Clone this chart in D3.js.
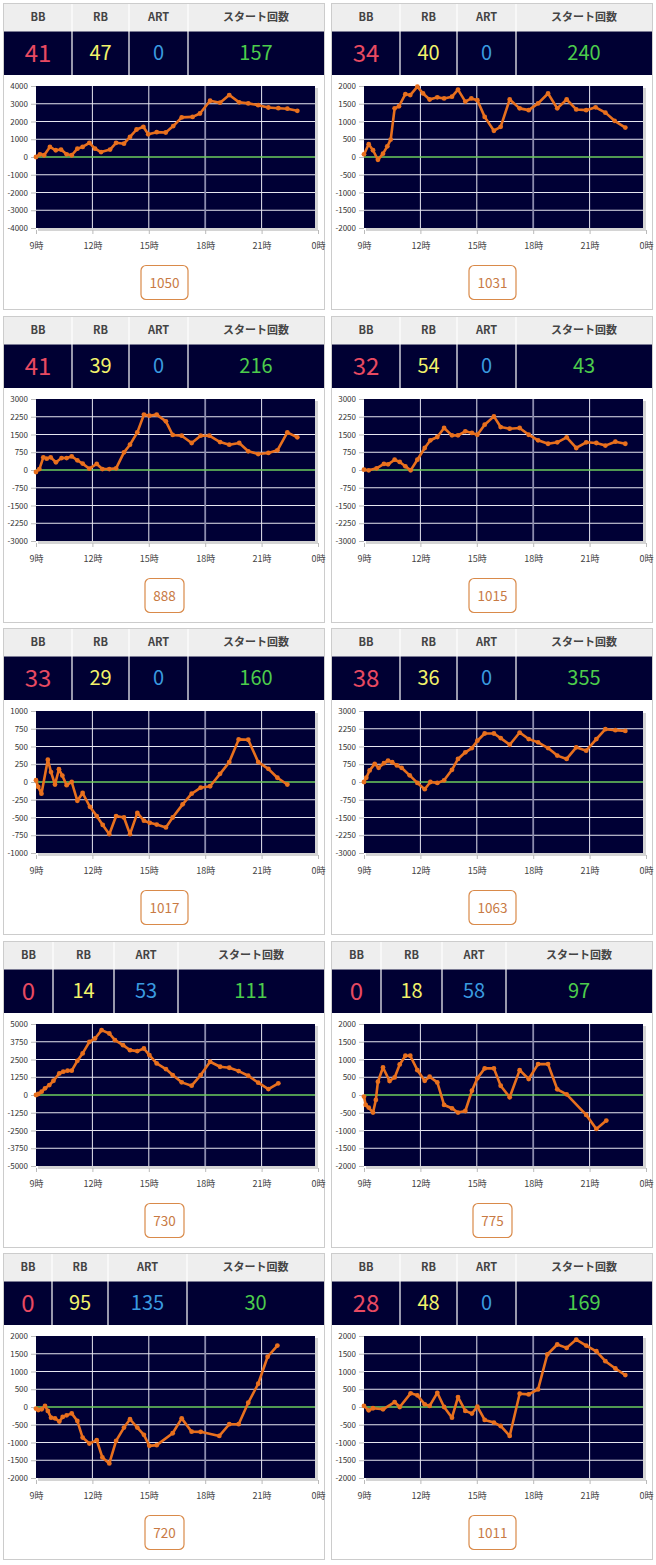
<!DOCTYPE html>
<html><head><meta charset="utf-8">
<script src="https://cdnjs.cloudflare.com/ajax/libs/d3/7.8.5/d3.min.js"></script>
<style>body{margin:0;background:#fff}svg{display:block}</style>
</head><body><svg id="c" width="656" height="1565"></svg>
<script>
// ---------- data ----------
const machineNos  = ["1050","1031","888","1015","1017","1063","730","775","720","1011"];
const bbCounts    = [41,34,41,32,33,38,0,0,0,28];
const rbCounts    = [47,40,39,54,29,36,14,18,95,48];
const artCounts   = [0,0,0,0,0,0,53,58,135,0];
const startCounts = [157,240,216,43,160,355,111,97,30,169];
const yMaxes      = [4000,2000,3000,3000,1000,3000,5000,2000,2000,2000];
const headerLabels = ["BB","RB","ART","スタート回数"];
const xTickHours  = [9,12,15,18,21,24];
const xTickLabels = ["9時","12時","15時","18時","21時","0時"];

const times1 = [9.0,9.21,9.43,9.74,10.05,10.33,10.63,10.9,11.2,11.48,11.84,12.14,12.46,12.94,13.26,13.68,14.0,14.35,14.71,14.97,15.42,15.9,16.3,16.75,17.33,17.72,18.26,18.79,19.28,19.81,20.29,20.82,21.36,21.89,22.37,22.9];
const diffs1 = [0,150,100,570,380,420,150,100,470,570,800,470,280,420,800,750,1130,1550,1700,1280,1400,1380,1740,2230,2260,2450,3170,3060,3490,3080,3020,2920,2790,2750,2720,2600];
const times2 = [9.0,9.25,9.48,9.74,10.01,10.24,10.42,10.63,10.86,11.2,11.46,11.84,12.14,12.49,12.9,13.26,13.68,14.0,14.39,14.71,15.03,15.42,15.91,16.27,16.75,17.28,17.76,18.26,18.79,19.28,19.78,20.29,20.82,21.32,21.84,22.33,22.9];
const diffs2 = [75,360,190,-80,95,300,490,1370,1430,1770,1745,1980,1790,1620,1680,1650,1700,1900,1560,1650,1600,1130,740,850,1620,1370,1320,1510,1790,1370,1620,1340,1320,1400,1250,1020,830];
const times3 = [9.0,9.18,9.39,9.57,9.78,10.06,10.36,10.63,10.9,11.2,11.48,11.84,12.23,12.53,12.9,13.26,13.68,14.0,14.39,14.74,15.03,15.42,15.91,16.27,16.75,17.28,17.76,18.22,18.79,19.28,19.81,20.29,20.82,21.36,21.84,22.37,22.9];
const diffs3 = [-85,40,535,480,535,325,505,505,575,410,270,55,255,40,40,70,745,1070,1590,2340,2295,2340,2055,1480,1450,1140,1450,1450,1180,1070,1140,790,675,720,830,1590,1380];
const times4 = [9.0,9.25,9.67,10.06,10.28,10.63,10.9,11.2,11.48,11.84,12.23,12.53,12.9,13.26,13.68,14.0,14.39,14.74,15.03,15.42,15.91,16.27,16.75,17.28,17.76,18.26,18.79,19.28,19.78,20.29,20.82,21.36,21.84,22.37,22.9];
const diffs4 = [15,-15,70,255,240,435,340,155,-15,435,930,1255,1395,1775,1465,1465,1635,1565,1490,1915,2265,1815,1745,1775,1490,1255,1110,1170,1380,930,1170,1140,1030,1195,1110];
const times5 = [9.0,9.12,9.29,9.63,9.8,10.01,10.22,10.4,10.63,10.9,11.2,11.48,11.87,12.23,12.55,12.9,13.26,13.68,14.0,14.39,14.74,15.05,15.42,15.91,16.27,16.8,17.28,17.76,18.26,18.79,19.28,19.78,20.29,20.82,21.36,21.84,22.37];
const diffs5 = [25,-70,-165,315,140,-35,180,90,-45,0,-265,-155,-350,-480,-605,-735,-480,-500,-735,-435,-545,-575,-600,-640,-500,-315,-165,-80,-60,115,280,600,595,280,185,60,-35];
const times6 = [9.0,9.12,9.3,9.57,9.78,10.06,10.28,10.5,10.75,11.0,11.43,11.84,12.23,12.53,12.9,13.26,13.68,14.0,14.39,14.74,15.03,15.42,15.91,16.27,16.75,17.28,17.76,18.26,18.79,19.28,19.78,20.29,20.82,21.36,21.84,22.37,22.9];
const diffs6 = [0,180,490,765,600,795,905,835,700,600,280,-40,-305,0,-40,70,515,975,1255,1435,1745,2050,2050,1855,1575,2090,1815,1675,1435,1115,975,1465,1325,1815,2230,2190,2160];
const times7 = [9.0,9.12,9.3,9.48,9.71,9.93,10.24,10.45,10.68,10.9,11.2,11.48,11.84,12.14,12.49,12.9,13.2,13.63,14.0,14.39,14.74,15.03,15.42,15.91,16.27,16.75,17.28,17.76,18.26,18.79,19.28,19.78,20.29,20.82,21.36,21.89];
const diffs7 = [0,70,235,470,700,1005,1520,1640,1710,1710,2410,2925,3745,3980,4565,4330,3860,3510,3160,3090,3275,2810,2225,1825,1405,890,655,1405,2340,1990,1920,1685,1355,865,420,820];
const times8 = [9.0,9.09,9.25,9.48,9.63,9.74,10.01,10.36,10.63,10.9,11.2,11.46,11.84,12.23,12.49,12.9,13.26,13.68,14.0,14.39,14.74,15.03,15.42,15.91,16.27,16.75,17.28,17.76,18.26,18.79,19.28,19.78,20.82,21.36,21.89];
const diffs8 = [-45,-280,-355,-495,-140,375,775,395,495,860,1105,1105,700,400,515,355,-280,-375,-495,-450,120,470,750,750,260,-65,700,450,870,870,160,20,-560,-955,-720];
const times9 = [9.0,9.12,9.3,9.48,9.63,9.8,10.01,10.24,10.42,10.63,10.9,11.2,11.48,11.84,12.23,12.53,12.9,13.26,13.68,14.0,14.39,14.74,15.03,15.42,16.27,16.75,17.28,17.76,18.75,19.28,19.78,20.29,20.82,21.32,21.84];
const diffs9 = [-45,-85,-65,30,-110,-300,-320,-410,-280,-235,-180,-395,-860,-1030,-935,-1420,-1590,-955,-580,-345,-580,-785,-1095,-1075,-740,-320,-695,-700,-815,-485,-485,120,655,1415,1730];
const times10 = [9.0,9.25,9.48,10.01,10.63,10.9,11.48,11.84,12.23,12.49,12.9,13.26,13.68,14.0,14.39,14.74,15.03,15.42,15.91,16.27,16.75,17.28,17.76,18.26,18.75,19.28,19.78,20.29,20.82,21.36,21.84,22.37,22.9];
const diffs10 = [30,-95,-35,-65,140,0,385,330,75,30,400,0,-300,280,-110,-185,10,-365,-440,-535,-815,375,355,495,1480,1760,1665,1900,1730,1570,1290,1085,900];

const allTimes = [times1,times2,times3,times4,times5,times6,times7,times8,times9,times10];
const allDiffs = [diffs1,diffs2,diffs3,diffs4,diffs5,diffs6,diffs7,diffs8,diffs9,diffs10];

// ---------- layout ----------
const colSplitsA = [69,126,185], colSplitsB = [50,111,175], colSplitsC = [49,105,184];
const colSplits = [colSplitsA,colSplitsA,colSplitsA,colSplitsA,colSplitsA,colSplitsA,colSplitsB,colSplitsB,colSplitsC,colSplitsA];
const W = 322, H = 307;
const FONT = "'Noto Sans CJK JP','Noto Sans',sans-serif";
const valueColors = ["#e84a62","#f2f26a","#3a9be0","#4ccc4c"];

const svg = d3.select("#c");

for (let i = 0; i < 10; i++) {
  const col = i % 2, row = Math.floor(i / 2);
  const left = col ? 331 : 3, top = 3 + Math.round(row * 312.5);
  const g = svg.append("g").attr("transform", `translate(${left},${top})`);

  g.append("rect").attr("x", 0.5).attr("y", 0.5).attr("width", W - 1).attr("height", H - 1)
    .attr("fill", "#fff").attr("stroke", "#cccccc");

  // table
  const sp = [1, ...colSplits[i], W - 1];
  const vals = [bbCounts[i], rbCounts[i], artCounts[i], startCounts[i]];
  for (let k = 0; k < 4; k++) {
    const x0 = sp[k], x1 = sp[k + 1];
    g.append("rect").attr("x", x0).attr("y", 1).attr("width", x1 - x0).attr("height", 27.5).attr("fill", "#eeeeee");
    g.append("rect").attr("x", x0).attr("y", 28.5).attr("width", x1 - x0).attr("height", 43.5).attr("fill", "#000033");
    g.append("text").attr("x", (x0 + x1) / 2).attr("y", 13).attr("text-anchor", "middle")
      .attr("dominant-baseline", "central").attr("font-family", FONT).attr("font-size", 11)
      .attr("font-weight", "bold").attr("fill", "#444").text(headerLabels[k]);
    g.append("text").attr("x", (x0 + x1) / 2).attr("y", 48).attr("text-anchor", "middle")
      .attr("dominant-baseline", "central").attr("font-family", FONT)
      .attr("font-size", k === 0 ? 24 : 20).attr("fill", valueColors[k]).text(vals[k]);
    if (k > 0) {
      g.append("line").attr("x1", x0).attr("x2", x0).attr("y1", 1).attr("y2", 72)
        .attr("stroke", "#fff").attr("stroke-width", 1.2);
    }
  }

  // chart
  const px0 = 33, px1 = 312, py0 = 83, py1 = 225;
  const x = d3.scaleLinear().domain([9, 24]).range([33, 315]);
  const ymax = yMaxes[i];
  const y = d3.scaleLinear().domain([-ymax, ymax]).range([py1, py0]);
  const yTicks = d3.range(-4, 5).map(k => k * ymax / 4);

  g.append("rect").attr("x", px0 + 2).attr("y", py0 + 2).attr("width", px1 - px0 + 1).attr("height", py1 - py0 + 1)
    .attr("fill", "#d4d4d4");
  g.append("rect").attr("x", px0).attr("y", py0).attr("width", px1 - px0).attr("height", py1 - py0)
    .attr("fill", "#000035");

  // horizontal grid
  g.append("g").selectAll("line").data(yTicks.filter(v => v !== 0 && Math.abs(v) !== ymax)).join("line")
    .attr("x1", px0).attr("x2", px1).attr("y1", d => y(d)).attr("y2", d => y(d))
    .attr("stroke", "#e6e6f0").attr("stroke-width", 1);
  // vertical grid
  g.append("g").selectAll("line").data(xTickHours.filter(h => h > 9 && h < 24)).join("line")
    .attr("x1", d => x(d)).attr("x2", d => x(d)).attr("y1", py0).attr("y2", py1)
    .attr("stroke", d => d === 18 ? "#8c8cae" : "#e6e6f0").attr("stroke-width", d => d === 18 ? 1.8 : 1);
  // zero line
  g.append("line").attr("x1", px0).attr("x2", px1).attr("y1", y(0)).attr("y2", y(0))
    .attr("stroke", "#6ccc5c").attr("stroke-width", 1.5);

  // y axis
  const yAxis = d3.axisLeft(y).tickValues(yTicks).tickSize(5).tickPadding(3).tickFormat(d => String(d));
  const ya = g.append("g").attr("transform", `translate(${px0},0)`).call(yAxis);
  ya.select(".domain").remove();
  ya.selectAll(".tick line").attr("stroke", "#bbbbbb");
  ya.selectAll("text").attr("font-family", FONT).attr("font-size", 8).attr("fill", "#333");

  // x axis
  const xAxis = d3.axisBottom(x).tickValues(xTickHours).tickSize(4).tickPadding(9)
    .tickFormat((d, j) => xTickLabels[j]);
  const xa = g.append("g").attr("transform", `translate(0,${py1 + 2})`).call(xAxis);
  xa.select(".domain").remove();
  xa.selectAll(".tick line").attr("stroke", "#bbbbbb");
  xa.selectAll("text").attr("font-family", FONT).attr("font-size", 9).attr("fill", "#444");

  // series
  const pts = allTimes[i].map((t, j) => [t, allDiffs[i][j]]);
  const line = d3.line().x(d => x(d[0])).y(d => y(d[1]));
  g.append("path").datum(pts).attr("d", line).attr("fill", "none")
    .attr("stroke", "#e8701e").attr("stroke-width", 2.6).attr("stroke-linejoin", "round");
  g.append("g").selectAll("circle").data(pts).join("circle")
    .attr("cx", d => x(d[0])).attr("cy", d => y(d[1])).attr("r", 2.4).attr("fill", "#e8701e");

  // machine number box
  const label = machineNos[i];
  const bw = 15 + 8 * label.length, bh = 34;
  g.append("rect").attr("x", W / 2 - bw / 2 + 0.5).attr("y", 262.5).attr("width", bw).attr("height", bh)
    .attr("rx", 5).attr("fill", "#fff").attr("stroke", "#d98a4a").attr("stroke-width", 1.2);
  g.append("text").attr("x", W / 2 + 0.5).attr("y", 279).attr("text-anchor", "middle")
    .attr("dominant-baseline", "central").attr("font-family", FONT).attr("font-size", 13.5)
    .attr("fill", "#c87a44").text(label);
}
</script></body></html>
